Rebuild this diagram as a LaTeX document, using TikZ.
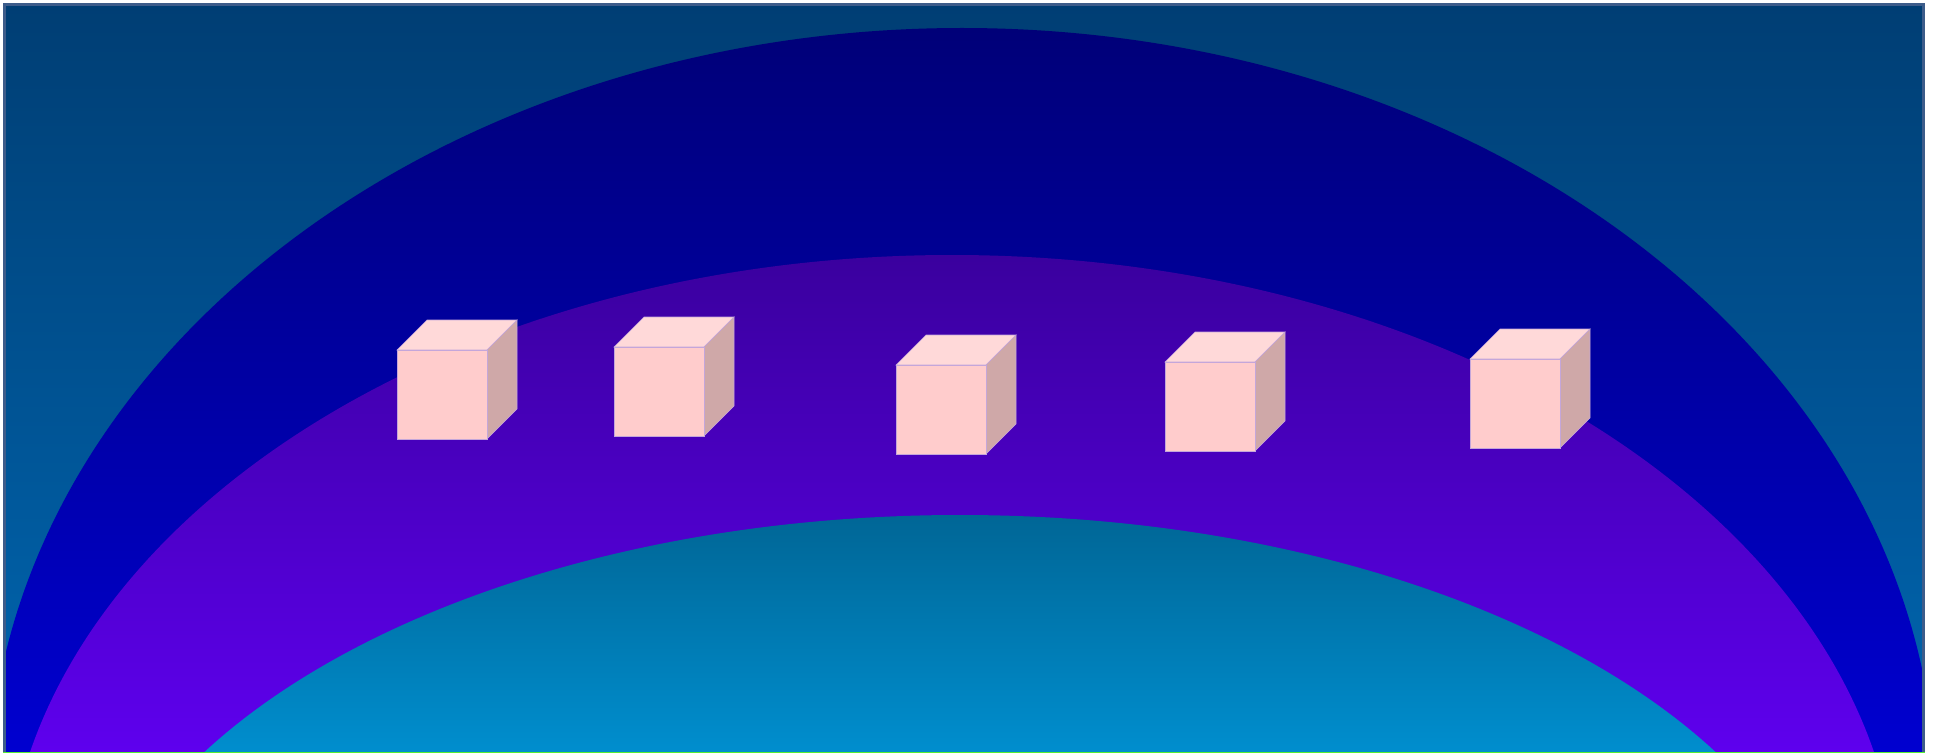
\documentclass[tikz,border=0pt]{standalone}
\definecolor{bgtop}{HTML}{003E74}
\definecolor{bgbot}{HTML}{0066B0}
\definecolor{frameC}{HTML}{3D5C8A}
\definecolor{blueTop}{HTML}{000078}
\definecolor{blueBot}{HTML}{0000D0}
\definecolor{purTop}{HTML}{3A009E}
\definecolor{purBot}{HTML}{5E00EE}
\definecolor{tealTop}{HTML}{006696}
\definecolor{tealBot}{HTML}{008ECE}
\definecolor{cubeFront}{HTML}{FFCCCC}
\definecolor{cubeTop}{HTML}{FFD9D9}
\definecolor{cubeSide}{HTML}{CFA8A8}
\definecolor{cubeEdge}{HTML}{C4A6DA}
\definecolor{greenLine}{HTML}{55EE33}
\begin{document}
\begin{tikzpicture}[x=1pt,y=-1pt,
  face/.style={draw=cubeEdge, line width=0.6pt, line join=miter},
  cube/.pic={
    \filldraw[face, fill=cubeTop] (0,0) -- (30,-30) -- (120,-30) -- (90,0) -- cycle;
    \filldraw[face, fill=cubeSide] (90,0) -- (120,-30) -- (120,59) -- (90,89) -- cycle;
    \filldraw[face, fill=cubeFront] (0,0) rectangle (90,89);
  }]
\useasboundingbox (0,0) rectangle (1936,754);
\fill[white] (0,0) rectangle (1936,754);
\shade[top color=bgtop, bottom color=bgbot] (4.5,4.5) rectangle (1923.5,752);
\begin{scope}
  \clip (4.5,4.5) rectangle (1923.5,752);
  \begin{scope}
    \clip (962,800) ellipse [x radius=974, y radius=772];
    \shade[top color=blueTop, bottom color=blueBot] (0,28) rectangle (1936,752);
  \end{scope}
  \begin{scope}
    \clip (952,900) ellipse [x radius=947, y radius=645];
    \shade[top color=purTop, bottom color=purBot] (0,255) rectangle (1936,752);
  \end{scope}
  \begin{scope}
    \clip (960,1000) ellipse [x radius=879, y radius=485];
    \shade[top color=tealTop, bottom color=tealBot] (0,515) rectangle (1936,752);
  \end{scope}
\end{scope}
\draw[frameC, line width=3pt] (4.5,752) -- (4.5,4.5) -- (1923.5,4.5) -- (1923.5,752);
\draw[greenLine, line width=1.5pt] (3,752.5) -- (1925,752.5);
\pic at (397,350) {cube};
\pic at (614,347) {cube};
\pic at (896,365) {cube};
\pic at (1165,362) {cube};
\pic at (1470,359) {cube};
\end{tikzpicture}
\end{document}
